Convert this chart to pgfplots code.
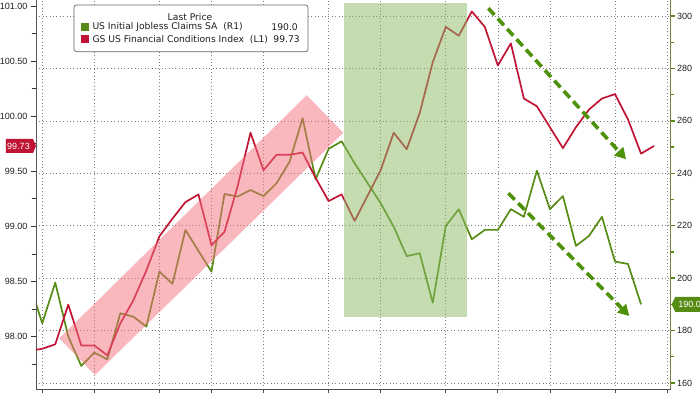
\documentclass[border=0pt]{standalone}
\usepackage{fontspec}
\setmainfont{Liberation Sans}
\newfontfamily\legfont{DejaVu Sans}
\usepackage{pgfplots}
\pgfplotsset{compat=1.18}
\usetikzlibrary{arrows.meta}
\definecolor{fcired}{RGB}{192,20,52}
\definecolor{jcgreen}{RGB}{86,140,20}
\definecolor{arrowgreen}{RGB}{78,145,10}
\definecolor{rectgreen}{RGB}{140,186,100}
\definecolor{bandpink}{RGB}{244,112,125}
\definecolor{gridgray}{RGB}{125,125,125}
\definecolor{raxis}{RGB}{120,130,60}
\definecolor{txt}{RGB}{30,30,30}
\pgfplotsset{/pgf/number format/assume math mode=true}
\begin{document}
\begin{tikzpicture}[font=\fontsize{9bp}{11bp}\selectfont]
\path[use as bounding box] (-36bp,-4.7bp) rectangle (664bp,389.3bp);
% right axis: jobless claims, with grids
\begin{axis}[
  scale only axis, width=634.7bp, height=389.3bp,
  xmin=-0.48, xmax=48.28, ymin=157.59, ymax=306.1,
  axis x line*=bottom, axis y line*=right,
  xtick={0,4,9,13,17,22,26,31,35,39,44,48}, xticklabels={},
  ytick={160,180,...,300}, minor ytick={170,190,...,290},
  xmajorgrids, ymajorgrids,
  grid style={gridgray, line width=0.6bp, dash pattern=on 0.8bp off 2.6bp},
  tick align=outside,
  major tick length=4bp, minor tick length=3bp,
  x axis line style={-, draw=black!70, line width=0.8bp},
  y axis line style={-, draw=raxis, line width=0.8bp},
  xtick style={draw=black!70, line width=0.7bp},
  ytick style={draw=jcgreen, line width=1.4bp},
  minor tick style={draw=raxis, line width=0.6bp},
  yticklabel style={text=txt, font=\fontsize{9bp}{11bp}\selectfont, xshift=-1bp},
]
\addplot[jcgreen, line width=1.7bp, line join=round] coordinates {
(-1,198.3) (0,182.8) (1,198.3) (2,177.7) (3,166.5) (4,171.6) (5,169.0) (6,186.6)
(7,185.3) (8,181.5) (9,202.5) (10,197.8) (11,218.4) (12,210.4) (13,202.5) (14,232.1)
(15,231.1) (16,233.6) (17,231.3) (18,236.2) (19,244.4) (20,261.0) (21,237.7) (22,249.3)
(23,252.2) (24,243.8) (25,236.2) (26,228.6) (27,219.6) (28,208.4) (29,209.5) (30,190.6)
(31,219.9) (32,226.3) (33,214.8) (34,218.4) (35,218.4) (36,226.3) (37,223.4) (38,241.0)
(39,226.3) (40,231.3) (41,212.3) (42,216.1) (43,223.4) (44,206.3) (45,205.4) (46,190.0)
};
\coordinate (rp) at (axis cs:48.28,190);
\end{axis}
% left axis: GS FCI
\begin{axis}[
  scale only axis, width=634.7bp, height=389.3bp,
  xmin=-0.48, xmax=48.28, ymin=97.522, ymax=101.054,
  axis y line*=left, hide x axis,
  ytick={98,98.5,99,99.5,100,100.5,101},
  minor ytick={97.75,98.25,98.75,99.25,99.75,100.25,100.75},
  tick align=outside, major tick length=5bp, minor tick length=4bp,
  y axis line style={-, draw=black!65, line width=0.8bp},
  ytick style={draw=black!80, line width=0.8bp},
  minor tick style={draw=black!70, line width=0.6bp},
  yticklabel style={text=txt, font=\fontsize{9bp}{11bp}\selectfont,
    /pgf/number format/fixed, /pgf/number format/fixed zerofill,
    /pgf/number format/precision=2},
]
\addplot[fcired, line width=1.7bp, line join=round] coordinates {
(-1,97.87) (0,97.89) (1,97.93) (2,98.29) (3,97.92) (4,97.92) (5,97.83) (6,98.12)
(7,98.33) (8,98.60) (9,98.91) (10,99.07) (11,99.22) (12,99.29) (13,98.83) (14,98.95)
(15,99.36) (16,99.85) (17,99.51) (18,99.65) (19,99.65) (20,99.67) (21,99.44) (22,99.23)
(23,99.29) (24,99.05) (25,99.28) (26,99.51) (27,99.85) (28,99.70) (29,100.03) (30,100.49)
(31,100.81) (32,100.73) (33,100.95) (34,100.81) (35,100.46) (36,100.66) (37,100.16) (38,100.09)
(39,99.90) (40,99.71) (41,99.90) (42,100.06) (43,100.16) (44,100.20) (45,99.97) (46,99.66)
(47,99.73)
};
\fill[bandpink, opacity=0.5] (axis cs:1.306,97.985) -- (axis cs:4.05,97.652) -- (axis cs:23.13,99.850) -- (axis cs:20.32,100.19) -- cycle;
\fill[rectgreen, opacity=0.5] (axis cs:23.18,98.181) rectangle (axis cs:32.61,101.03);
\draw[arrowgreen, line width=3.6bp, dash pattern=on 9bp off 5bp, -{Triangle[length=11bp,width=12bp]}] (axis cs:34.27,100.979) -- (axis cs:44.85,99.609);
\draw[arrowgreen, line width=3.6bp, dash pattern=on 9bp off 5bp, -{Triangle[length=11bp,width=12bp]}] (axis cs:35.81,99.301) -- (axis cs:45.10,98.187);
\coordinate (lp) at (axis cs:-0.48,99.73);
\end{axis}
% last-value markers
\fill[fcired] (lp) -- ++(-3bp,7bp) -- ++(-27bp,0) -- ++(0,-14bp) -- ++(27bp,0) -- cycle;
\node[text=white, inner sep=0] at ([xshift=-17.5bp]lp) {99.73};
\fill[jcgreen] ([xshift=1bp]rp) -- ++(3.5bp,7.5bp) -- ++(40bp,0) -- ++(0,-15bp) -- ++(-40bp,0) -- cycle;
\node[text=white, anchor=west, inner sep=0] at ([xshift=7.5bp]rp) {190.0};
% legend
\draw[black!60, fill=white, rounded corners=2.5bp, line width=0.7bp] (38bp,337.6bp) rectangle (272bp,384.3bp);
\begin{scope}[font=\legfont\fontsize{9.2bp}{11bp}\selectfont]
\node[text=txt, inner sep=0] at (154bp,372.3bp) {Last Price};
\fill[jcgreen] (44.7bp,358.3bp) rectangle (53.3bp,366bp);
\node[text=txt, anchor=west, inner sep=0] at (56.3bp,362.3bp) {US Initial Jobless Claims SA\ \ (R1)};
\node[text=txt, anchor=east, inner sep=0] at (262bp,362.3bp) {190.0};
\fill[fcired] (44.7bp,346bp) rectangle (53.3bp,354.3bp);
\node[text=txt, anchor=west, inner sep=0] at (56.3bp,350.1bp) {GS US Financial Conditions Index\ \ (L1)};
\node[text=txt, anchor=east, inner sep=0] at (264bp,350.1bp) {99.73};
\end{scope}
\end{tikzpicture}
\end{document}
